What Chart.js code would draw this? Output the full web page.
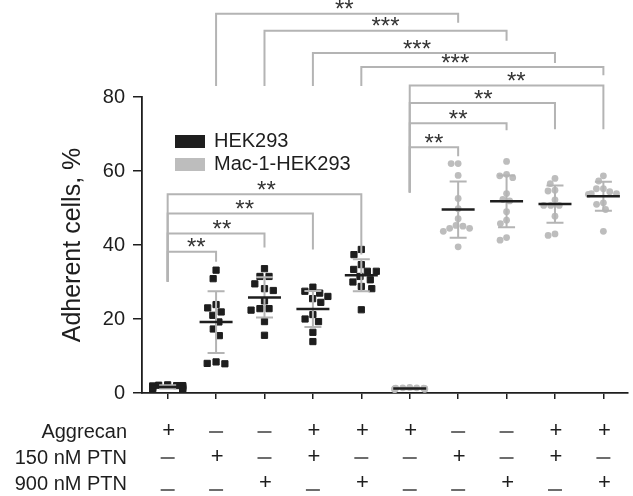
<!DOCTYPE html>
<html lang="en">
<head>
<meta charset="UTF-8">
<title>Adherent cells</title>
<script src="https://cdn.jsdelivr.net/npm/chart.js"></script>
<style>
  html, body { margin: 0; padding: 0; background: #fff; }
  #wrap { width: 633px; height: 496px; }
</style>
</head>
<body>
<div id="wrap"><canvas id="cells"></canvas></div>
<script>
// x positions of the ten conditions
const groupIds = [1, 2, 3, 4, 5, 6, 7, 8, 9, 10];

// HEK293 (groups 1-5), adherent cells in %
const hekAgg       = [2.0, 2.1, 1.9, 2.2, 1.8, 1.0, 1.5, 1.2, 2.0, 1.6, 0.9, 1.4];
const hekPtn150    = [33.2, 30.9, 23.9, 23.0, 21.9, 21.0, 19.2, 17.3, 15.5, 8.4, 7.9, 8.0];
const hekPtn900    = [33.6, 31.5, 31.5, 29.5, 28.2, 27.7, 24.9, 22.8, 22.4, 22.8, 19.3, 15.6];
const hekAggPtn150 = [27.5, 26.1, 27.0, 28.6, 25.5, 24.5, 20.0, 19.3, 21.2, 16.4, 13.9];
const hekAggPtn900 = [38.8, 37.4, 34.7, 33.4, 32.9, 32.9, 31.5, 30.6, 30.0, 28.8, 28.2, 22.5];

// Mac-1-HEK293 (groups 6-10)
const macAgg       = [1.5, 1.4, 1.3, 1.2, 1.1, 1.0, 0.9, 1.3, 1.2, 1.0, 1.4, 1.1];
const macPtn150    = [62.0, 62.0, 58.8, 52.6, 49.8, 47.1, 45.1, 44.5, 43.7, 44.5, 45.3, 39.5];
const macPtn900    = [62.6, 59.1, 58.2, 58.7, 53.9, 52.3, 51.9, 49.0, 46.7, 45.8, 41.3, 42.0];
const macAggPtn150 = [58.0, 56.6, 54.6, 54.8, 52.2, 50.7, 50.7, 50.7, 47.8, 42.6, 43.0];
const macAggPtn900 = [58.7, 57.3, 55.2, 55.2, 53.9, 53.9, 53.7, 54.4, 51.0, 51.4, 49.6, 43.7];

const yTicks = [0, 20, 40, 60, 80];

// condition table under the axis
const rowLabels  = ['Aggrecan', '150 nM PTN', '900 nM PTN'];
const aggRow     = ['+', '-', '-', '+', '+', '+', '-', '-', '+', '+'];
const ptn150Row  = ['-', '+', '-', '+', '-', '-', '+', '-', '+', '-'];
const ptn900Row  = ['-', '-', '+', '-', '+', '-', '-', '+', '-', '+'];

// significance brackets: [from, to, bar level, left leg end, right leg end, label, label at]
const brackets = [
  [2, 7, 102.5, 83.0, 100.1, '**', 4.65],
  [3, 8, 97.9, 83.0, 95.2, '***', 5.5],
  [4, 9, 91.9, 83.0, 89.2, '***', 6.15],
  [5, 10, 88.1, 83.0, 85.9, '***', 6.94],
  [6, 10, 83.1, 54.2, 71.3, '**', 8.2],
  [6, 9, 78.4, 54.2, 71.3, '**', 7.52],
  [6, 8, 72.9, 54.2, 71.0, '**', 7.0],
  [6, 7, 66.4, 54.2, 64.0, '**', 6.5],
  [1, 5, 53.7, 30.1, 37.4, '**', 3.04],
  [1, 4, 48.5, 30.1, 38.8, '**', 2.59],
  [1, 3, 43.1, 30.1, 39.3, '**', 2.12],
  [1, 2, 38.2, 30.1, 35.5, '**', 1.59]
];

const FONT = '"Liberation Sans", Arial, Helvetica, sans-serif';
const INK = '#1e1e1e';
const GREY_DOT = '#bdbdbd';
const GREY_LINE = '#b4b4b4';

const hekSets = [hekAgg, hekPtn150, hekPtn900, hekAggPtn150, hekAggPtn900];
const macSets = [macAgg, macPtn150, macPtn900, macAggPtn150, macAggPtn900];
const allSets = hekSets.concat(macSets);

function toPoints(sets, first) {
  const pts = [];
  sets.forEach((vals, i) => vals.forEach(v => pts.push({ x: first + i, y: v, g: first + i })));
  return pts;
}

function meanSd(vals) {
  const m = vals.reduce((a, b) => a + b, 0) / vals.length;
  const v = vals.reduce((a, b) => a + (b - m) * (b - m), 0) / (vals.length - 1);
  return [m, Math.sqrt(v)];
}

// mean line and SD whiskers, drawn over the dots
const errorBars = {
  id: 'errorBars',
  afterDatasetsDraw(chart) {
    const { ctx, scales: { x, y } } = chart;
    ctx.save();
    allSets.forEach((vals, i) => {
      const [m, sd] = meanSd(vals);
      const cx = x.getPixelForValue(groupIds[i]);
      const top = y.getPixelForValue(m + sd), bot = y.getPixelForValue(m - sd);
      ctx.strokeStyle = GREY_LINE;
      ctx.lineWidth = 2;
      ctx.beginPath();
      ctx.moveTo(cx, top); ctx.lineTo(cx, bot);
      ctx.moveTo(cx - 8.5, top); ctx.lineTo(cx + 8.5, top);
      ctx.moveTo(cx - 8.5, bot); ctx.lineTo(cx + 8.5, bot);
      ctx.stroke();
      const my = y.getPixelForValue(m);
      ctx.strokeStyle = INK;
      ctx.lineWidth = 2.5;
      ctx.beginPath();
      ctx.moveTo(cx - 16.5, my); ctx.lineTo(cx + 16.5, my);
      ctx.stroke();
    });
    ctx.restore();
  }
};

// brackets, legend and the condition table
const extras = {
  id: 'extras',
  afterDraw(chart) {
    const { ctx, scales: { x, y } } = chart;
    ctx.save();
    // brackets
    brackets.forEach(([a, b, lvl, le, re, label, at]) => {
      const xa = x.getPixelForValue(a), xb = x.getPixelForValue(b);
      const yl = y.getPixelForValue(lvl);
      ctx.strokeStyle = GREY_LINE;
      ctx.lineWidth = 2;
      ctx.beginPath();
      ctx.moveTo(xa, y.getPixelForValue(le));
      ctx.lineTo(xa, yl);
      ctx.lineTo(xb, yl);
      ctx.lineTo(xb, y.getPixelForValue(re));
      ctx.stroke();
      ctx.fillStyle = '#333';
      ctx.font = '24px ' + FONT;
      ctx.textAlign = 'center';
      ctx.textBaseline = 'middle';
      ctx.fillText(label, x.getPixelForValue(at), yl - 3);
    });

    // legend
    chart.data.datasets.forEach((ds, i) => {
      const ly = 141 + i * 23;
      ctx.fillStyle = ds.backgroundColor;
      ctx.fillRect(175, ly - 6, 30, 13);
      ctx.fillStyle = INK;
      ctx.font = '20px ' + FONT;
      ctx.textAlign = 'left';
      ctx.textBaseline = 'middle';
      ctx.fillText(ds.label, 214, ly);
    });

    // table
    const rows = [aggRow, ptn150Row, ptn900Row];
    rows.forEach((row, r) => {
      const ry = 432 + r * 26;
      ctx.fillStyle = INK;
      ctx.font = '20px ' + FONT;
      ctx.textAlign = 'right';
      ctx.textBaseline = 'middle';
      ctx.fillText(rowLabels[r], 127, ry);
      ctx.textAlign = 'center';
      row.forEach((s, i) => {
        const cx = x.getPixelForValue(groupIds[i]);
        if (s === '+') {
          ctx.font = '22px ' + FONT;
          ctx.fillText('+', cx + 1, ry - 1);
        } else {
          const dy = r === 2 ? 6 : 0;
          ctx.strokeStyle = INK;
          ctx.lineWidth = 1.3;
          ctx.beginPath();
          ctx.moveTo(cx - 7, ry + dy);
          ctx.lineTo(cx + 7, ry + dy);
          ctx.stroke();
        }
      });
    });
    ctx.restore();
  }
};

const chart = new Chart(document.getElementById('cells'), {
  type: 'scatter',
  data: {
    datasets: [
      {
        label: 'HEK293',
        data: toPoints(hekSets, 1),
        backgroundColor: INK,
        borderColor: INK,
        borderWidth: 1,
        pointStyle: 'rect',
        pointRadius: 4.4,
        pointHoverRadius: 4.4
      },
      {
        label: 'Mac-1-HEK293',
        data: toPoints(macSets, 6),
        backgroundColor: GREY_DOT,
        borderColor: GREY_DOT,
        borderWidth: 0,
        pointStyle: 'circle',
        pointRadius: 3.4,
        pointHoverRadius: 3.4
      }
    ]
  },
  options: {
    responsive: true,
    maintainAspectRatio: false,
    animation: false,
    events: [],
    layout: { padding: { left: 0, top: 97, right: 0, bottom: 0 } },
    plugins: { legend: { display: false }, tooltip: { enabled: false } },
    scales: {
      x: {
        type: 'linear',
        min: 0.47,
        max: 10.5,
        afterBuildTicks: s => { s.ticks = groupIds.map(v => ({ value: v })); },
        afterFit: s => { s.height = 103; },
        ticks: { display: false },
        grid: { drawOnChartArea: false, drawTicks: true, tickLength: 6, color: INK, lineWidth: 1.5 },
        border: { display: true, color: INK, width: 1.8 }
      },
      y: {
        min: 0,
        max: 80,
        afterBuildTicks: s => { s.ticks = yTicks.map(v => ({ value: v })); },
        afterFit: s => { s.width = 142; },
        ticks: { color: INK, font: { family: FONT, size: 20 }, padding: 8 },
        grid: { drawOnChartArea: false, drawTicks: true, tickLength: 9, color: INK, lineWidth: 1.5 },
        border: { display: true, color: INK, width: 1.8 },
        title: {
          display: true,
          text: 'Adherent cells, %',
          color: INK,
          font: { family: FONT, size: 25 },
          padding: { top: 58, bottom: 0 }
        }
      }
    }
  },
  plugins: [errorBars, extras]
});

// spread the dots of each group sideways so they do not overlap
function swarm(chart) {
  const xs = chart.scales.x, ys = chart.scales.y;
  chart.data.datasets.forEach(ds => {
    const d = ds.pointStyle === 'rect' ? 9 : 7;
    const cap = 15;
    const byGroup = {};
    ds.data.forEach(p => (byGroup[p.g] = byGroup[p.g] || []).push(p));
    Object.values(byGroup).forEach(list => {
      const placed = [];
      list.slice().sort((a, b) => b.y - a.y).forEach(p => {
        const py = ys.getPixelForValue(p.y);
        const blocks = [];
        placed.forEach(q => {
          const dy = Math.abs(q.py - py);
          if (dy < d) {
            const w = Math.sqrt(d * d - dy * dy);
            blocks.push([q.dx - w, q.dx + w]);
          }
        });
        const cands = [0];
        blocks.forEach(b => cands.push(b[0], b[1]));
        cands.sort((a, b) => Math.abs(a) - Math.abs(b));
        let dx = cands.find(c => blocks.every(b => c <= b[0] + 1e-6 || c >= b[1] - 1e-6));
        if (Math.abs(dx) > cap) dx = Math.sign(dx) * cap;
        placed.push({ py, dx });
        p.x = xs.getValueForPixel(xs.getPixelForValue(p.g) + dx);
      });
    });
  });
  chart.update('none');
}
swarm(chart);
</script>
</body>
</html>
